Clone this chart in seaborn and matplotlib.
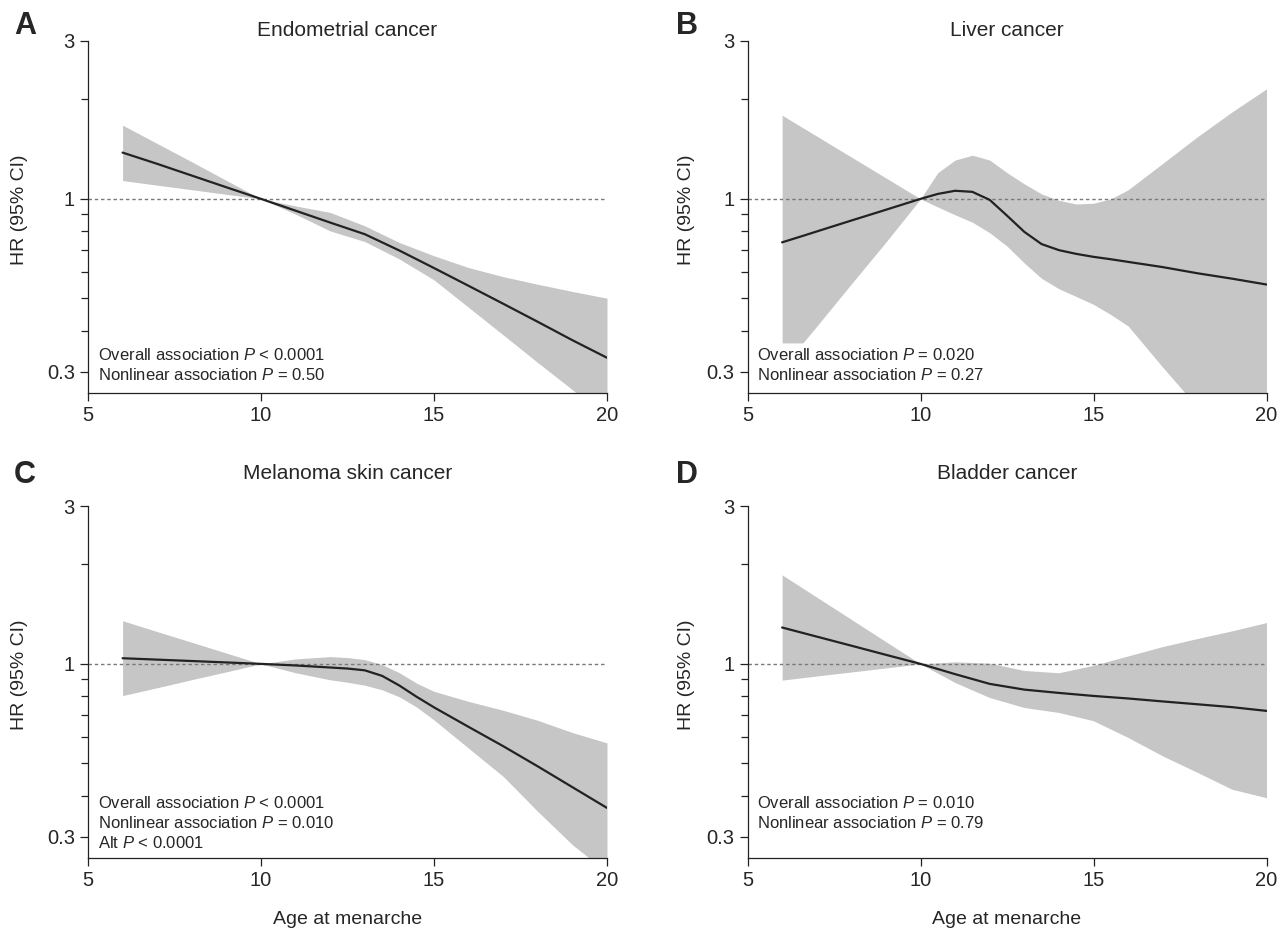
import numpy as np
import pandas as pd
import matplotlib
matplotlib.use("Agg")
import matplotlib.pyplot as plt
from matplotlib.ticker import FixedLocator, NullFormatter
import seaborn as sns

# Values (HR with 95% CI by age at menarche)
age_a = [6, 7, 8, 9, 10, 11, 12, 13, 14, 15, 16, 17, 18, 19, 20]
hr_a = [1.38, 1.276, 1.176, 1.084, 1.0, 0.921, 0.848, 0.782, 0.698, 0.618, 0.546, 0.482, 0.425, 0.374, 0.331]
hi_a = [1.67, 1.47, 1.294, 1.137, 1.0, 0.952, 0.91, 0.829, 0.738, 0.673, 0.62, 0.582, 0.552, 0.525, 0.501]
lo_a = [1.136, 1.10, 1.066, 1.032, 1.0, 0.899, 0.80, 0.743, 0.658, 0.569, 0.47, 0.388, 0.32, 0.265, 0.219]

age_b = [6, 6.6, 7, 8, 9, 10, 10.5, 11, 11.5, 12, 12.5, 13, 13.5, 14, 14.5, 15, 15.5, 16, 17, 18, 19, 20]
hr_b = [0.739, 0.773, 0.797, 0.86, 0.927, 1.0, 1.035, 1.058, 1.05, 0.993, 0.89, 0.795, 0.73, 0.70, 0.682, 0.668, 0.657, 0.645, 0.622, 0.596, 0.574, 0.551]
hi_b = [1.79, 1.64, 1.548, 1.338, 1.157, 1.0, 1.2, 1.31, 1.355, 1.31, 1.2, 1.11, 1.035, 0.99, 0.965, 0.97, 1.0, 1.065, 1.28, 1.54, 1.83, 2.15]
lo_b = [0.367, 0.367, 0.412, 0.553, 0.74, 1.0, 0.945, 0.895, 0.85, 0.79, 0.72, 0.64, 0.575, 0.535, 0.507, 0.48, 0.447, 0.413, 0.31, 0.235, 0.185, 0.148]

age_c = [6, 7, 8, 9, 10, 11, 12, 12.5, 13, 13.5, 14, 14.5, 15, 16, 17, 18, 19, 20]
hr_c = [1.04, 1.03, 1.02, 1.01, 1.0, 0.989, 0.975, 0.968, 0.956, 0.92, 0.86, 0.795, 0.739, 0.645, 0.564, 0.49, 0.424, 0.367]
hi_c = [1.35, 1.252, 1.162, 1.078, 1.0, 1.035, 1.052, 1.045, 1.03, 0.995, 0.94, 0.874, 0.826, 0.77, 0.724, 0.675, 0.62, 0.577]
lo_c = [0.802, 0.847, 0.896, 0.946, 1.0, 0.94, 0.895, 0.88, 0.862, 0.835, 0.795, 0.74, 0.677, 0.556, 0.457, 0.358, 0.284, 0.235]

age_d = [6, 7, 8, 9, 10, 11, 12, 13, 14, 15, 16, 17, 18, 19, 20]
hr_d = [1.288, 1.209, 1.135, 1.065, 1.0, 0.931, 0.87, 0.836, 0.817, 0.80, 0.786, 0.77, 0.755, 0.74, 0.721]
hi_d = [1.858, 1.591, 1.363, 1.167, 1.0, 1.014, 1.005, 0.955, 0.94, 0.99, 1.057, 1.128, 1.193, 1.258, 1.333]
lo_d = [0.893, 0.919, 0.945, 0.972, 1.0, 0.878, 0.791, 0.738, 0.713, 0.673, 0.599, 0.527, 0.47, 0.418, 0.394]

titles = ["Endometrial cancer", "Liver cancer", "Melanoma skin cancer", "Bladder cancer"]
letters = ["A", "B", "C", "D"]
notes = [
    ["Overall association $P$ < 0.0001", "Nonlinear association $P$ = 0.50"],
    ["Overall association $P$ = 0.020", "Nonlinear association $P$ = 0.27"],
    ["Overall association $P$ < 0.0001", "Nonlinear association $P$ = 0.010", "Alt $P$ < 0.0001"],
    ["Overall association $P$ = 0.010", "Nonlinear association $P$ = 0.79"],
]

sns.set_style("ticks")
plt.rcParams["font.family"] = ["Liberation Sans", "DejaVu Sans"]
plt.rcParams["mathtext.fontset"] = "custom"
plt.rcParams["mathtext.rm"] = "Liberation Sans"
plt.rcParams["mathtext.it"] = "Liberation Sans:italic"

fig = plt.figure(figsize=(12.86, 9.31), dpi=100)

W, H = 1286, 931
boxes = [(88, 41), (747.5, 41), (88, 506), (747.5, 506)]
aw, ah = 519, 352
panels = [
    (age_a, hr_a, lo_a, hi_a),
    (age_b, hr_b, lo_b, hi_b),
    (age_c, hr_c, lo_c, hi_c),
    (age_d, hr_d, lo_d, hi_d),
]
note_y = [[0.108, 0.051], [0.108, 0.051], [0.156, 0.099, 0.043], [0.156, 0.099]]

for i, (x0, y0) in enumerate(boxes):
    ax = fig.add_axes([x0 / W, 1 - (y0 + ah) / H, aw / W, ah / H])
    age, hr, lo, hi = panels[i]
    df = pd.DataFrame({"age": age, "hr": hr, "lo": lo, "hi": hi})

    ax.set_yscale("log")
    ax.fill_between(df["age"], df["lo"], df["hi"], color="#c6c6c6", lw=0, zorder=1)
    ax.axhline(1, color="#7a7a7a", lw=1, ls=(0, (2.5, 2)), zorder=2)
    sns.lineplot(data=df, x="age", y="hr", ax=ax, color="#222222", lw=1.6, zorder=3)

    ax.set_xlim(5, 20)
    ax.set_ylim(0.259, 3)
    ax.set_xticks([5, 10, 15, 20])
    ax.yaxis.set_major_locator(FixedLocator([0.3, 1, 3]))
    ax.yaxis.set_minor_locator(FixedLocator([0.4, 0.5, 0.6, 0.7, 0.8, 0.9, 2]))
    ax.yaxis.set_minor_formatter(NullFormatter())
    ax.set_yticklabels(["0.3", "1", "3"])
    ax.tick_params(axis="both", which="major", length=6, width=0.9, labelsize=14.5, direction="out", color="#222222")
    ax.tick_params(axis="y", which="minor", length=5, width=0.9, direction="out", color="#222222")
    sns.despine(ax=ax)
    for s in ["left", "bottom"]:
        ax.spines[s].set_linewidth(0.9)
        ax.spines[s].set_color("#222222")

    ax.set_ylabel("HR (95% CI)", fontsize=14)
    ax.yaxis.set_label_coords(-0.116 if i % 2 == 0 else -0.101, 0.52)
    if i >= 2:
        ax.set_xlabel("Age at menarche", fontsize=14, labelpad=15)
    else:
        ax.set_xlabel("")

    ty = 1.031 if i < 2 else 1.091
    ax.text(0.5, ty, titles[i], transform=ax.transAxes, ha="center", va="center", fontsize=15)

    for line, yy in zip(notes[i], note_y[i]):
        ax.text(0.019, yy, line, transform=ax.transAxes, ha="left", va="center", fontsize=12)

    fig.text((14 if i % 2 == 0 else 676) / W, 1 - (11 if i < 2 else 460) / H, letters[i],
             ha="left", va="top", fontsize=22, fontweight="bold")

fig.savefig("out.png", dpi=100)
